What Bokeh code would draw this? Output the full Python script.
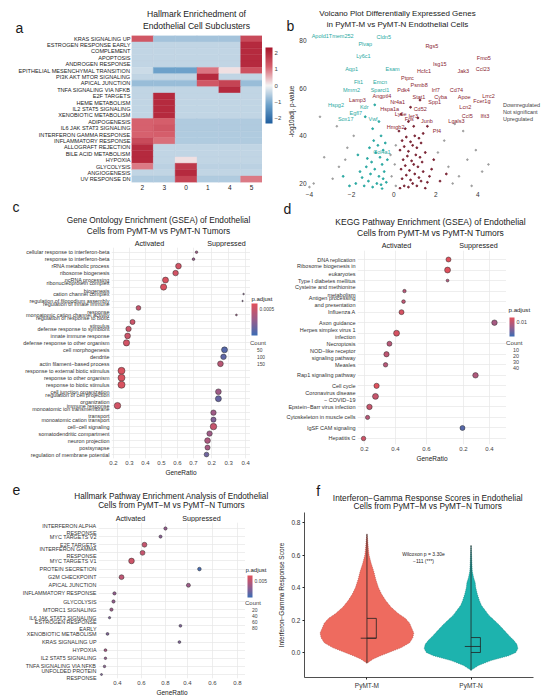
import math
from bokeh.plotting import figure
from bokeh.models import (ColumnDataSource, LinearColorMapper, ColorBar, FixedTicker,
                          Label, Legend, LegendItem, Range1d, FactorRange, PrintfTickFormatter)
from bokeh.layouts import column, row
from bokeh.embed import file_html
from bokeh.resources import INLINE
from bokeh.core.properties import value

FONT = "Liberation Sans"

# ---------------- panel a : hallmark heatmap ----------------
hm_rows = ["KRAS SIGNALING UP", "ESTROGEN RESPONSE EARLY", "COMPLEMENT", "APOPTOSIS",
           "ANDROGEN RESPONSE", "EPITHELIAL MESENCHYMAL TRANSITION", "PI3K AKT MTOR SIGNALING",
           "APICAL JUNCTION", "TNFA SIGNALING VIA NFKB", "E2F TARGETS", "HEME METABOLISM",
           "IL2 STAT5 SIGNALING", "XENOBIOTIC METABOLISM", "ADIPOGENESIS", "IL6 JAK STAT3 SIGNALING",
           "INTERFERON GAMMA RESPONSE", "INFLAMMATORY RESPONSE", "ALLOGRAFT REJECTION",
           "BILE ACID METABOLISM", "HYPOXIA", "GLYCOLYSIS", "ANGIOGENESIS", "UV RESPONSE DN"]
hm_cols = ["2", "3", "0", "1", "4", "5"]
hm_values = [
    [1.3, -0.7, -0.7, -0.7, -0.7, 1.5],
    [-0.45, -0.45, -0.45, -0.45, -0.45, 2.0],
    [-0.45, -0.45, -0.45, -0.45, -0.45, 2.0],
    [-0.45, -0.45, -0.45, -0.45, -0.45, 2.0],
    [-0.45, -0.45, -0.45, -0.45, -0.45, 2.0],
    [-0.35, -1.2, -1.2, 1.0, 0.15, 1.4],
    [-0.45, -0.45, -0.45, 2.0, -0.45, -0.45],
    [-0.8, -0.8, -0.8, 1.3, 1.6, -0.8],
    [-0.45, -0.45, -0.45, -0.45, 2.0, -0.45],
    [-0.45, 2.0, -0.45, -0.45, -0.45, -0.45],
    [-0.45, 2.0, -0.45, -0.45, -0.45, -0.45],
    [-0.45, 2.0, -0.45, -0.45, -0.45, -0.45],
    [-0.45, 2.0, -0.45, -0.45, -0.45, -0.45],
    [1.15, 1.2, -0.6, -0.6, -0.6, -0.6],
    [1.15, 1.3, -0.6, -0.6, -0.6, -0.6],
    [1.15, 1.2, -0.6, -0.6, -0.6, -0.6],
    [1.5, 1.05, -0.6, -0.6, -0.6, -0.6],
    [2.0, -0.45, -0.45, -0.45, -0.45, -0.45],
    [2.0, -0.45, -0.45, -0.45, -0.45, -0.45],
    [2.0, -0.45, 0.15, -0.45, -0.45, -0.45],
    [0.95, -0.5, 1.8, -0.5, -0.5, -0.5],
    [-0.45, -0.45, 2.0, -0.45, -0.45, -0.45],
    [-0.6, -0.6, 1.6, -0.6, -0.6, 0.95],
]
hm_ticks = [-2, -1, 0, 1, 2]

# ---------------- panel b : volcano ----------------
dn_lab_genes = ["Apold1Tmem252", "Cldn5", "Plvap", "Ly6c1", "Aqp1", "Esam", "Flt1", "Emcn",
                "Mmrn2", "Sparcl1", "Hspg2", "Kdr", "Egfl7", "Sox17", "Vwf", "Col4a1"]
dn_lab_fc = [-2.9, -0.47, -1.35, -1.44, -2.0, -0.05, -1.67, -0.65, -2.0, -0.65, -2.74, -1.4,
             -1.8, -2.28, -0.98, -0.56]
dn_lab_p = [81.9, 81.4, 78.6, 73.7, 68.1, 68.1, 62.5, 62.5, 59.4, 59.4, 53.1, 52.3, 49.4,
            46.9, 46.9, 33.1]
up_lab_genes = ["Rgs5", "Fmo5", "Ccl23", "Isg15", "Jak3", "Hcfc1", "Ptprc", "Psmb8", "Pdk4",
                "Irf7", "Cd74", "Angptl4", "Stat1", "Cyba", "Apoe", "Lrrc2", "Fcer1g", "Spp1",
                "Lamp3", "Nr4a1", "Hspa1a", "Cd52", "Lcn2", "Ccl5", "Ifit3", "Ier3", "Ly6e",
                "Fos", "Junb", "Lgals3", "Hmgb2", "Pf4"]
up_lab_fc = [1.81, 4.28, 4.23, 2.19, 3.3, 1.44, 0.65, 1.21, 0.47, 2.0, 2.98, -0.56, 1.2, 2.23,
             3.35, 4.5, 4.19, 1.95, -1.72, 0.19, -0.19, 1.26, 3.4, 3.49, 4.33, 0.93, 0.33,
             0.74, 1.58, 2.98, 0.09, 2.05]
up_lab_p = [77.5, 72.7, 68.1, 70.2, 67.4, 67.4, 64.4, 61.5, 59.3, 59.3, 59.3, 56.6, 56.2, 56.2,
            56.2, 56.9, 54.5, 54.1, 55.2, 54.1, 51.3, 51.3, 52.3, 48.5, 48.5, 48.5, 49.2, 47.1,
            46.4, 46.1, 43.6, 41.9]
dn_dot_fc = [-1.4, -1.2, -1.0, -0.8, -0.6, -0.5, -1.1, -0.9, -0.7, -1.3, -0.55, -1.5, -0.65,
             -0.85, -1.05, -0.45, -1.25, -0.75, -0.95, -0.5, -1.6, -0.35, -1.15, -0.6, -1.8,
             -2.1, -0.4, -1.0, -0.7, -1.35, -0.9, -0.3, -2.4, -1.7, -0.55]
dn_dot_p = [19, 21, 18.5, 20, 19.5, 22, 24, 26, 23, 27, 28, 22.5, 31, 33, 29, 25, 30.5, 36, 38,
            34, 25, 20.5, 35, 40, 20, 19, 37, 43, 46, 48, 53, 30, 23, 32, 17.8]
up_dot_fc = [0.3, 0.5, 0.7, 0.9, 1.1, 1.3, 1.5, 0.4, 0.6, 0.8, 1.0, 1.2, 1.4, 1.6, 0.35, 0.55,
             0.75, 0.95, 1.15, 1.35, 1.7, 0.45, 0.65, 0.85, 1.05, 1.25, 1.5, 0.3, 0.5, 0.7, 0.9,
             1.1, 1.3, 1.8, 0.4, 0.6, 0.8, 1.0, 1.2, 0.25, 0.55, 0.95, 1.4, 0.7, 1.15, 0.35,
             1.9, 2.2, 2.5, 0.8, 1.6, 1.25]
up_dot_p = [18, 19, 18.5, 20, 19, 21, 18, 22, 23.5, 21.5, 24, 22.5, 25, 20.5, 26, 27.5, 25.5,
            28, 27, 29, 23, 30, 31.5, 29.5, 32, 31, 33, 34, 35.5, 33.5, 36, 35, 37, 26, 38, 39.5,
            37.5, 40, 39, 42, 43, 44, 41, 46, 47.5, 49, 30, 21, 24, 52, 44, 55]
ns_dot_fc = [-3.8, -2.9, -2.6, -3.3, -2.2, -1.9, 2.8, 3.1, 2.6, 3.5, 3.9, 2.4, 3.3, 4.2, 2.9,
             -2.7, -3.5, 0.1, -0.1, 0.05, -0.15, 0.1, 2.1, -2.3, 3.7, 4.5, -4.0]
ns_dot_p = [20, 22, 27, 31, 35, 40, 20, 23, 27, 30, 34, 38, 42, 25, 45, 44, 48, 19, 23, 28, 32,
            36, 33, 30, 19, 28, 18.5]

# ---------------- panel c : GO GSEA ----------------
go_terms = ["cellular response to interferon-beta", "response to interferon-beta",
            "rRNA metabolic process", "ribosome biogenesis", "ncRNA processing",
            "ribonucleoprotein complex\nbiogenesis", "cation channel complex",
            "regulation of filopodium assembly", "regulation of innate immune\nresponse",
            "monoatomic cation channel activity", "regulation of response to biotic\nstimulus",
            "defense response to symbiont", "innate immune response",
            "defense response to other organism", "cell morphogenesis", "dendrite",
            "actin filament\u2212based process", "response to external biotic stimulus",
            "response to other organism", "response to biotic stimulus",
            "cell junction organization", "regulation of cell projection\norganization",
            "immune response", "monoatomic ion transmembrane\ntransport",
            "monoatomic cation transport", "cell\u2212cell signaling",
            "somatodendritic compartment", "neuron projection", "postsynapse",
            "regulation of membrane potential"]
go_ratio = [0.719, 0.70, 0.606, 0.588, 0.525, 0.513, 0.388, 0.382, 0.356, 0.346, 0.319, 0.294,
            0.288, 0.281, 0.276, 0.27, 0.252, 0.25, 0.25, 0.25, 0.24, 0.24, 0.225, 0.211, 0.211,
            0.211, 0.188, 0.176, 0.176, 0.17]
go_side = ["Activated"] * 6 + ["Suppressed", "Suppressed", "Activated", "Suppressed"] + \
          ["Activated"] * 4 + ["Suppressed"] * 3 + ["Activated"] * 3 + ["Suppressed"] * 2 + \
          ["Activated"] + ["Suppressed"] * 7
go_count = [20, 22, 100, 95, 110, 120, 8, 6, 70, 10, 80, 90, 100, 120, 110, 95, 100, 150, 150,
            155, 100, 110, 130, 90, 80, 130, 90, 100, 80, 70]
go_padj = [0.0012, 0.0013, 0.0004, 0.0004, 0.0003, 0.0003, 0.0015, 0.0015, 0.0006, 0.0012,
           0.0005, 0.0005, 0.0005, 0.0004, 0.0021, 0.0020, 0.0008, 0.0003, 0.0003, 0.0003,
           0.0012, 0.0019, 0.0004, 0.0012, 0.0016, 0.0006, 0.0012, 0.0010, 0.0011, 0.0018]
go_padj_ticks = [0.0005, 0.0010, 0.0015, 0.0020]
go_count_keys = ["50", "100", "150"]

# ---------------- panel d : KEGG GSEA ----------------
kegg_terms = ["DNA replication", "Ribosome biogenesis in\neukaryotes", "Type I diabetes mellitus",
              "Cysteine and methionine\nmetabolism", "Antigen processing\nand presentation",
              "Influenza A", "Axon guidance", "Herpes simplex virus 1\ninfection", "Necroptosis",
              "NOD\u2212like receptor\nsignaling pathway", "Measles", "Rap1 signaling pathway",
              "Cell cycle", "Coronavirus disease\n\u2212 COVID\u221219",
              "Epstein\u2212Barr virus infection", "Cytoskeleton in muscle cells",
              "IgSF CAM signaling", "Hepatitis C"]
kegg_ratio = [0.742, 0.736, 0.736, 0.458, 0.452, 0.439, 0.438, 0.407, 0.361, 0.342, 0.336,
              0.292, 0.278, 0.271, 0.232, 0.22, 0.192, 0.194]
kegg_side = ["Activated"] * 6 + ["Suppressed"] + ["Activated"] * 4 + ["Suppressed"] + \
            ["Activated"] * 4 + ["Suppressed", "Activated"]
kegg_count = [25, 35, 8, 12, 14, 25, 30, 35, 25, 28, 20, 30, 28, 35, 30, 18, 25, 20]
kegg_padj = [0.006, 0.006, 0.012, 0.011, 0.010, 0.007, 0.013, 0.007, 0.011, 0.010, 0.011, 0.012,
             0.006, 0.009, 0.009, 0.011, 0.021, 0.008]
kegg_padj_ticks = [0.01, 0.02]
kegg_count_keys = ["10", "20", "30", "40"]

# ---------------- panel e : Hallmark GSEA ----------------
hall_terms = ["INTERFERON ALPHA\nRESPONSE", "MYC TARGETS V2", "E2F TARGETS",
              "INTERFERON GAMMA\nRESPONSE", "MYC TARGETS V1", "PROTEIN SECRETION",
              "G2M CHECKPOINT", "APICAL JUNCTION", "INFLAMMATORY RESPONSE", "GLYCOLYSIS",
              "MTORC1 SIGNALING", "IL6 JAK STAT3 SIGNALING", "ESTROGEN RESPONSE\nEARLY",
              "XENOBIOTIC METABOLISM", "KRAS SIGNALING UP", "HYPOXIA", "IL2 STAT5 SIGNALING",
              "TNFA SIGNALING VIA NFKB", "UNFOLDED PROTEIN\nRESPONSE"]
hall_ratio = [0.80, 0.759, 0.625, 0.609, 0.517, 0.496, 0.434, 0.408, 0.375, 0.367, 0.35, 0.334,
              0.344, 0.317, 0.336, 0.30, 0.30, 0.292, 0.267]
hall_side = ["Activated"] * 5 + ["Suppressed", "Activated", "Suppressed"] + ["Activated"] * 4 + \
            ["Suppressed", "Activated", "Suppressed"] + ["Activated"] * 4
hall_count = [20, 18, 45, 45, 60, 25, 45, 30, 20, 20, 20, 10, 15, 15, 15, 15, 12, 12, 8]
hall_padj = [0.010, 0.011, 0.004, 0.004, 0.003, 0.017, 0.005, 0.009, 0.010, 0.010, 0.009,
             0.012, 0.012, 0.012, 0.012, 0.008, 0.010, 0.011, 0.012]
hall_padj_ticks = [0.005, 0.010, 0.015]
hall_count_keys = ["20", "40", "60", "80"]

# ---------------- panel f : violin ----------------
vio_groups = ["PyMT-M", "PyMT-N"]
vio_m_y = [-0.066, -0.04, -0.02, 0.0, 0.03, 0.06, 0.09, 0.12, 0.15, 0.18, 0.21, 0.24, 0.28,
           0.32, 0.36, 0.40, 0.45, 0.50, 0.55, 0.60, 0.65, 0.70, 0.73]
vio_m_w = [0.0, 0.06, 0.13, 0.21, 0.33, 0.41, 0.44, 0.45, 0.43, 0.41, 0.37, 0.30, 0.23, 0.18,
           0.14, 0.11, 0.085, 0.065, 0.04, 0.02, 0.012, 0.006, 0.0]
vio_n_y = [-0.11, -0.08, -0.05, -0.02, 0.0, 0.025, 0.05, 0.075, 0.1, 0.135, 0.17, 0.2, 0.23,
           0.26, 0.29, 0.32, 0.36, 0.40, 0.43, 0.46, 0.5, 0.55, 0.6, 0.66]
vio_n_w = [0.0, 0.07, 0.19, 0.36, 0.43, 0.45, 0.44, 0.41, 0.37, 0.32, 0.27, 0.22, 0.17, 0.135,
           0.1, 0.08, 0.06, 0.045, 0.04, 0.025, 0.012, 0.008, 0.005, 0.0]
box_min = [-0.066, -0.11]
box_max = [0.73, 0.66]
box_q1 = [0.088, 0.0]
box_med = [0.088, 0.037]
box_q3 = [0.21, 0.092]


# ---------------- helpers ----------------
def hex2rgb(h):
    h = h.lstrip("#")
    return tuple(int(h[i:i + 2], 16) for i in (0, 2, 4))


def ramp(stops, n):
    out = []
    for k in range(n):
        t = k / (n - 1) * (len(stops) - 1)
        i = min(int(t), len(stops) - 2)
        f = t - i
        a, b = hex2rgb(stops[i]), hex2rgb(stops[i + 1])
        out.append("#%02x%02x%02x" % tuple(round(a[j] + (b[j] - a[j]) * f) for j in range(3)))
    return out


RDBU = ramp(["#1F5E9E", "#6FA3CB", "#F4F4F4", "#D6606D", "#A8152B"], 256)
PADJ = ramp(["#3B6DB5", "#9A5C8A", "#E2505A"], 256)


def mainfig(w, h, bl, bb, xr, yr, br=0):
    p = figure(width=w, height=h, min_border=0, min_border_left=bl, min_border_right=br,
               min_border_top=0, min_border_bottom=bb, x_range=xr, y_range=yr,
               output_backend="svg", toolbar_location=None, tools="", title=None)
    p.outline_line_color = None
    return p


def plain(w, h):
    p = figure(width=w, height=h, min_border=0, min_border_left=0, min_border_right=0,
               min_border_top=0, min_border_bottom=0, x_axis_type=None, y_axis_type=None,
               x_range=Range1d(0, w), y_range=Range1d(0, h), output_backend="svg",
               toolbar_location=None, tools="", title=None)
    p.outline_line_color = None
    return p


def ptxt(p, ox, oy, h, px, py, text, size, align="left", color="#1a1a1a", baseline="middle"):
    # ox, oy: page position of the figure's top-left; h: figure height
    p.add_layout(Label(x=px - ox, y=oy + h - py, text=text, text_font=FONT,
                       text_font_size="%spx" % size, text_align=align, text_baseline=baseline,
                       text_color=color))


def style_axis(ax, size="6px", color="#333333", standoff=2):
    ax.axis_line_color = None
    ax.major_tick_line_color = None
    ax.minor_tick_line_color = None
    ax.major_tick_out = 0
    ax.major_tick_in = 0
    ax.minor_tick_out = 0
    ax.minor_tick_in = 0
    ax.major_label_text_font = FONT
    ax.major_label_text_font_size = size
    ax.major_label_text_color = color
    ax.major_label_standoff = standoff


def colorbar_fig(w, h, mapper, ticks, overrides, bar_w, bar_h, pad, lfs):
    f = plain(w, h)
    kw = {}
    if overrides:
        kw["major_label_overrides"] = overrides
    f.add_layout(ColorBar(color_mapper=mapper, ticker=FixedTicker(ticks=ticks), width=bar_w,
                          height=bar_h, location="top_left", padding=pad, margin=0,
                          label_standoff=2, major_label_text_font=FONT,
                          major_label_text_font_size=lfs, major_tick_line_color=None,
                          bar_line_color=None, border_line_color=None, background_fill_alpha=0,
                          orientation="vertical", **kw))
    return f


def count_fig(w, h, keys, lh, lfs, tfs):
    f = plain(w, h)
    dummy = f.scatter(x=[], y=[], size=3, fill_color="white", line_color="#444444",
                      line_width=0.6, line_dash="1 1")
    f.add_layout(Legend(items=[LegendItem(label=k, renderers=[dummy]) for k in keys],
                        location="top_left", title="Count", title_text_font=FONT,
                        title_text_font_size="%spx" % tfs, title_standoff=1,
                        title_text_font_style="normal", label_text_font=FONT,
                        label_text_font_size=lfs, glyph_width=6, glyph_height=lh,
                        label_height=lh, spacing=0, padding=0, margin=0, label_standoff=1,
                        border_line_color=None, background_fill_alpha=0))
    return f


# ---------------- panel a ----------------
a_head = plain(285, 35)
ptxt(a_head, 0, 0, 35, 196, 13, "Hallmark Enrichedment of", 8.6, "center")
ptxt(a_head, 0, 0, 35, 196, 25, "Endothelial Cell Subclusters", 8.6, "center")
ptxt(a_head, 0, 0, 35, 15, 27, "a", 14, "left")

a_main = mainfig(262, 165, 131, 18, FactorRange(factors=hm_cols),
                 FactorRange(factors=list(reversed(hm_rows))))
hx, hy, hv = [], [], []
for i, rn in enumerate(hm_rows):
    for j, cn in enumerate(hm_cols):
        hx.append(cn)
        hy.append(rn)
        hv.append(hm_values[i][j])
hmap = LinearColorMapper(palette=RDBU, low=-2.33, high=2.33)
a_main.rect(x="x", y="y", width=1, height=1, source=ColumnDataSource(dict(x=hx, y=hy, v=hv)),
            fill_color={"field": "v", "transform": hmap},
            line_color={"field": "v", "transform": hmap}, line_width=0.4)
style_axis(a_main.yaxis[0], "5.6px", "#222222", 1)
style_axis(a_main.xaxis[0], "6.5px", "#222222", 2)
a_main.xgrid.visible = False
a_main.ygrid.visible = False

a_leg = column(plain(23, 9), colorbar_fig(23, 156, hmap, hm_ticks, None, 7, 76, 3, "6px"))
panel_a = column(a_head, row(a_main, a_leg))

# ---------------- panel b ----------------
b_head = plain(265, 33)
ptxt(b_head, 285, 0, 33, 397, 13, "Volcano Plot Differentially Expressed Genes", 8, "center")
ptxt(b_head, 285, 0, 33, 397, 24, "in PyMT-M vs PyMT-N Endothelial Cells", 8, "center")
ptxt(b_head, 285, 0, 33, 286, 25, "b", 14, "left")

b_main = mainfig(213, 167, 18, 11, Range1d(-4.093, 4.977), Range1d(17.48, 82.94))
TEAL = "#2AA9A2"
MAROON = "#8A1C30"
r_ns = b_main.scatter(ns_dot_fc, ns_dot_p, size=1.6, color="#9E9E9E")
r_dn = b_main.scatter(dn_dot_fc, dn_dot_p, size=1.8, color=TEAL)
r_up = b_main.scatter(up_dot_fc, up_dot_p, size=1.8, color="#7A2434")
b_main.text(x=dn_lab_fc, y=dn_lab_p, text=dn_lab_genes, text_font=value(FONT),
            text_font_size="5.5px", text_color=TEAL, text_align="center", text_baseline="middle")
b_main.text(x=up_lab_fc, y=up_lab_p, text=up_lab_genes, text_font=value(FONT),
            text_font_size="5.5px", text_color=MAROON, text_align="center",
            text_baseline="middle")
b_main.xaxis.ticker = FixedTicker(ticks=[-4, -2, 0, 2, 4])
b_main.yaxis.ticker = FixedTicker(ticks=[20, 40, 60, 80])
style_axis(b_main.xaxis[0], "6.5px", "#333333", 2)
style_axis(b_main.yaxis[0], "6.5px", "#333333", 1)
b_main.yaxis.axis_label = "-log10adj. p-value"
b_main.yaxis.axis_label_text_font = FONT
b_main.yaxis.axis_label_text_font_size = "6.5px"
b_main.yaxis.axis_label_text_font_style = "normal"
b_main.yaxis.axis_label_text_color = "#222222"
b_main.yaxis.axis_label_standoff = 1
b_main.xgrid.visible = False
b_main.ygrid.visible = False

b_legfig = plain(52, 98)
b_legfig.add_layout(Legend(items=[LegendItem(label="Downregulated", renderers=[r_dn]),
                                  LegendItem(label="Not significant", renderers=[r_ns]),
                                  LegendItem(label="Upregulated", renderers=[r_up])],
                           location="top_left", label_text_font=FONT,
                           label_text_font_size="5.5px", glyph_width=4, glyph_height=6,
                           label_height=6, spacing=1, padding=0, margin=0, label_standoff=1,
                           border_line_color=None, background_fill_alpha=0))
b_leg = column(plain(52, 69), b_legfig)
panel_b = column(b_head, row(b_main, b_leg))


# ---------------- facet dot panels ----------------
def facet_panel(terms, ratio, side, count, padj, padj_ticks, padj_fmt, count_keys, g):
    n = len(terms)
    ox, oy, hh = g["ox"], g["oy"], g["hh"]
    mh = g["h"] - hh
    lw = g["w"] - g["mw"]
    head = plain(g["w"], hh)
    for (px, py, t, s, al) in g["head_txt"]:
        ptxt(head, ox, oy, hh, px, py, t, s, al)
    p = mainfig(g["mw"], mh, g["bl"], g["bb"], Range1d(g["x0"], g["x1"]),
                Range1d(g["y0"], g["y1"]))

    def fx(r, s):
        return r if s == "Activated" else g["split"] + (r - g["sup0"]) * g["k"]

    xs = [fx(r, s) for r, s in zip(ratio, side)]
    ys = [n - i for i in range(n)]
    neg = [-v for v in padj]
    sizes = [g["sz"] * math.sqrt(c) for c in count]
    mapper = LinearColorMapper(palette=PADJ, low=-g["p1"], high=-g["p0"])
    p.scatter("x", "y", size="s", source=ColumnDataSource(dict(x=xs, y=ys, neg=neg, s=sizes)),
              fill_color={"field": "neg", "transform": mapper}, line_color="#2a2a2a",
              line_width=0.5)
    xt = [round(t, 6) for t in g["act_ticks"]] + \
         [round(fx(t, "Suppressed"), 6) for t in g["sup_ticks"]]
    xl = [g["xfmt"] % t for t in g["act_ticks"] + g["sup_ticks"]]
    p.xaxis.ticker = FixedTicker(ticks=xt)
    p.xaxis.major_label_overrides = {t: l for t, l in zip(xt, xl)}
    p.yaxis.ticker = FixedTicker(ticks=ys)
    p.yaxis.major_label_overrides = {y: t for y, t in zip(ys, terms)}
    style_axis(p.xaxis[0], g["xfs"], "#444444", 2)
    style_axis(p.yaxis[0], g["yfs"], "#333333", 2)
    p.xaxis.axis_label = "GeneRatio"
    p.xaxis.axis_label_text_font = FONT
    p.xaxis.axis_label_text_font_size = "6.5px"
    p.xaxis.axis_label_text_font_style = "normal"
    p.xaxis.axis_label_text_color = "#222222"
    p.xaxis.axis_label_standoff = 1
    p.xgrid.ticker = FixedTicker(ticks=xt)
    p.ygrid.ticker = FixedTicker(ticks=ys)
    p.xgrid.grid_line_color = "#E6E6E6"
    p.ygrid.grid_line_color = "#E6E6E6"
    p.xgrid.grid_line_width = 0.7
    p.ygrid.grid_line_width = 0.7
    # legend column to the right of the frame
    lx0 = ox + g["mw"]
    ly0 = oy + hh
    top = plain(lw, g["lt_h"])
    ptxt(top, lx0, ly0, g["lt_h"], g["pax"], g["pay"], "p.adjust", g["tfs"], "left")
    cticks = [-t for t in padj_ticks]
    cbf = colorbar_fig(lw, g["cb_h"], mapper, cticks,
                       {c: padj_fmt % t for c, t in zip(cticks, padj_ticks)},
                       g["cbw"], g["cbh"], g["cbpad"], g["lfs"])
    cnt = count_fig(lw, mh - g["lt_h"] - g["cb_h"], count_keys, g["lh"], g["lfs"], g["tfs"])
    return column(head, row(p, column(top, cbf, cnt)))


gc = dict(ox=0, oy=200, w=275, h=278, hh=47, mw=250, bl=111, bb=18,
          x0=0.1875, x1=1.05625, split=0.76, sup0=0.15, k=1.0625, y0=0.432, y1=30.667,
          act_ticks=[0.2, 0.3, 0.4, 0.5, 0.6, 0.7], sup_ticks=[0.2, 0.3, 0.4], xfmt="%.1f",
          xfs="6px", yfs="5.4px", sz=0.57, p0=0.00014, p1=0.00243,
          lt_h=55, pax=251, pay=298, cb_h=38, cbw=6, cbh=32, cbpad=1,
          lfs="4.8px", tfs=6, lh=7,
          head_txt=[(158, 219, "Gene Ontology Enrichment (GSEA) of Endothelial", 8.3, "center"),
                    (158, 230, "Cells from PyMT-M vs PyMT-N Tumors", 8.3, "center"),
                    (149, 243, "Activated", 7.2, "center"),
                    (226, 243, "Suppressed", 7.2, "center"),
                    (12, 206, "c", 14, "left")])
panel_c = facet_panel(go_terms, go_ratio, go_side, go_count, go_padj, go_padj_ticks, "%.4f",
                      go_count_keys, gc)

gd = dict(ox=275, oy=200, w=275, h=278, hh=50, mw=231, bl=82, bb=34,
          x0=0.155, x1=1.1163, split=0.787, sup0=0.138, k=0.839, y0=0.43, y1=18.855,
          act_ticks=[0.2, 0.4, 0.6], sup_ticks=[0.2, 0.4], xfmt="%.1f",
          xfs="6px", yfs="5.5px", sz=1.0, p0=0.0055, p1=0.0236,
          lt_h=64, pax=508, pay=309, cb_h=25, cbw=5, cbh=19, cbpad=3,
          lfs="5.4px", tfs=6.2, lh=6,
          head_txt=[(430, 221, "KEGG Pathway Enrichment (GSEA) of Endothelial", 8.5, "center"),
                    (430, 232, "Cells from PyMT-M vs PyMT-N Tumors", 8.5, "center"),
                    (396, 245, "Activated", 7.2, "center"),
                    (478, 245, "Suppressed", 7.2, "center"),
                    (283, 208, "d", 14, "left")])
panel_d = facet_panel(kegg_terms, kegg_ratio, kegg_side, kegg_count, kegg_padj,
                      kegg_padj_ticks, "%.2f", kegg_count_keys, gd)

ge = dict(ox=0, oy=478, w=275, h=222, hh=44, mw=245, bl=98, bb=22,
          x0=0.242, x1=1.467, split=0.858, sup0=0.28, k=1.0417, y0=0.507, y1=19.74,
          act_ticks=[0.4, 0.6, 0.8], sup_ticks=[0.4, 0.6, 0.8], xfmt="%.1f",
          xfs="6px", yfs="5.4px", sz=0.73, p0=0.0003, p1=0.0183,
          lt_h=51, pax=245, pay=569, cb_h=27, cbw=5, cbh=22, cbpad=2,
          lfs="5px", tfs=6, lh=5,
          head_txt=[(171, 496, "Hallmark Pathway Enrichment Analysis of Endothelial", 8.2, "center"),
                    (171, 505, "Cells from PyMT\u2212M vs PyMT\u2212N Tumors", 8.2, "center"),
                    (130, 518, "Activated", 7.2, "center"),
                    (201, 518, "Suppressed", 7.2, "center"),
                    (12, 489, "e", 14, "left")])
panel_e = facet_panel(hall_terms, hall_ratio, hall_side, hall_count, hall_padj,
                      hall_padj_ticks, "%.3f", hall_count_keys, ge)

# ---------------- panel f ----------------
f_head = plain(275, 34)
ptxt(f_head, 275, 478, 34, 423, 497, "Interferon\u2212Gamma Response Scores in Endothelial",
     8.3, "center")
ptxt(f_head, 275, 478, 34, 423, 505, "Cells from PyMT\u2212M vs PyMT\u2212N Tumors", 8.3,
     "center")
ptxt(f_head, 275, 478, 34, 289, 490, "f", 14, "left")

f_main = mainfig(275, 188, 29, 23, Range1d(0.4, 2.6), Range1d(-0.154, 0.862), br=17)
vio = [(vio_m_y, vio_m_w, "#EE6B5F", "#A9463E"), (vio_n_y, vio_n_w, "#1DB3AE", "#137A77")]
for gi, (vy, vw, fc, lc) in enumerate(vio):
    cx = gi + 1
    px_ = [cx - w for w in vw] + [cx + w for w in reversed(vw)]
    py_ = list(vy) + list(reversed(vy))
    f_main.patch(px_, py_, fill_color=fc, line_color=lc, line_width=0.6, line_dash="1 1")
centers = [1, 2]
f_main.segment(x0=centers, y0=box_min, x1=centers, y1=box_max, line_color="#222222",
               line_width=0.8)
f_main.segment(x0=[c - 0.06 for c in centers], y0=box_med, x1=[c + 0.09 for c in centers],
               y1=box_med, line_color="#222222", line_width=0.8)
f_main.segment(x0=[c + 0.09 for c in centers], y0=box_q1, x1=[c + 0.09 for c in centers],
               y1=box_q3, line_color="#222222", line_width=0.8)
f_main.segment(x0=centers, y0=box_q3, x1=[c + 0.09 for c in centers], y1=box_q3,
               line_color="#222222", line_width=0.8)
f_main.segment(x0=centers, y0=box_q1, x1=[c + 0.09 for c in centers], y1=box_q1,
               line_color="#222222", line_width=0.8)
f_main.xaxis.ticker = FixedTicker(ticks=[1, 2])
f_main.xaxis.major_label_overrides = {1: vio_groups[0], 2: vio_groups[1]}
f_main.yaxis.ticker = FixedTicker(ticks=[0, 0.2, 0.4, 0.6, 0.8])
f_main.yaxis.formatter = PrintfTickFormatter(format="%.1f")
for ax in (f_main.xaxis[0], f_main.yaxis[0]):
    ax.axis_line_color = "#222222"
    ax.axis_line_width = 0.8
    ax.major_tick_line_color = "#222222"
    ax.major_tick_out = 2
    ax.major_tick_in = 0
    ax.minor_tick_line_color = None
    ax.minor_tick_out = 0
    ax.minor_tick_in = 0
    ax.major_label_text_font = FONT
    ax.major_label_text_font_size = "6.5px"
    ax.major_label_text_color = "#333333"
    ax.major_label_standoff = 2
f_main.yaxis.axis_label = "Interferon\u2212Gamma Response Score"
f_main.yaxis.axis_label_text_font = FONT
f_main.yaxis.axis_label_text_font_size = "6.5px"
f_main.yaxis.axis_label_text_font_style = "normal"
f_main.yaxis.axis_label_text_color = "#222222"
f_main.yaxis.axis_label_standoff = 3
f_main.xgrid.visible = False
f_main.ygrid.visible = False
f_main.add_layout(Label(x=119, y=677 - 553, x_units="screen", y_units="screen",
                        text="Wilcoxon p = 3.30e", text_font=FONT, text_font_size="5px",
                        text_align="center", text_baseline="middle", text_color="#222222"))
f_main.add_layout(Label(x=119, y=677 - 560, x_units="screen", y_units="screen",
                        text="\u2212111 (***)", text_font=FONT, text_font_size="5px",
                        text_align="center", text_baseline="middle", text_color="#222222"))
panel_f = column(f_head, f_main)

layout = column(row(panel_a, panel_b), row(panel_c, panel_d), row(panel_e, panel_f))
open("out.html", "w").write(file_html(layout, INLINE))
